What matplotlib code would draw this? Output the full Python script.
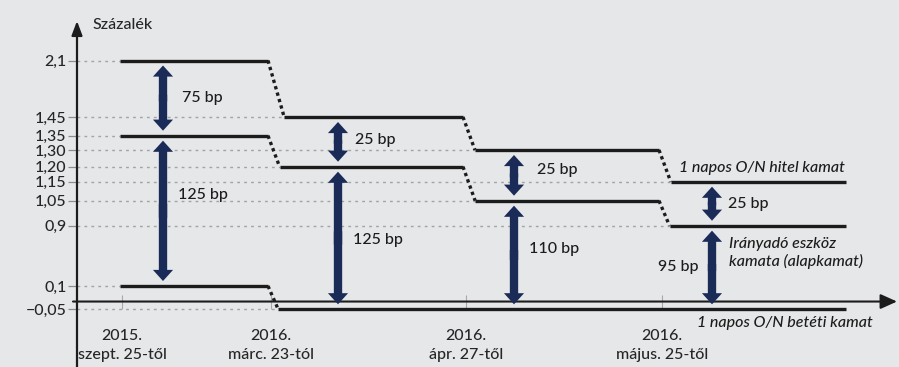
import numpy as np
import matplotlib.pyplot as plt
from matplotlib.patches import FancyArrowPatch, ArrowStyle

plt.rcParams['font.family'] = ['Lato', 'DejaVu Sans']
plt.rcParams['font.size'] = 11.5
plt.rcParams['font.weight'] = 'medium'

# Adatok (százalék)
ytick_values = [-0.05, 0.1, 0.9, 1.05, 1.15, 1.20, 1.30, 1.35, 1.45, 2.1]
ytick_labels = ['−0,05', '0,1', '0,9', '1,05', '1,15', '1,20', '1,30', '1,35', '1,45', '2,1']
periods = ['2015.\nszept. 25-től', '2016.\nmárc. 23-tól',
           '2016.\nápr. 27-től', '2016.\nmájus. 25-től']
hitel_kamat = [2.1, 1.45, 1.30, 1.15]
alapkamat = [1.35, 1.20, 1.05, 0.90]
betet_kamat = [0.10, -0.05, -0.05, -0.05]
series_names = ['1 napos O/N hitel kamat',
                'Irányadó eszköz\nkamata (alapkamat)',
                '1 napos O/N betéti kamat']

# Elrendezés (képpont)
W, H = 899, 367
ytick_pos = [57.7, 81, 141.3, 166.3, 185.3, 200.3, 217, 231.3, 250, 306.5]
period_x = [122, 271, 466, 662]
end_x = 846
axis_x = 77
arrow_x = [163, 338, 514, 712]
upper_dx = [19, 17, 23, 16]
upper_dy = [0, 2, 5, 0]
lower_dx = [15, 15, 15, -13]
lower_dy = [16, -2, 6, 0]

BG = '#e6e7e9'
INK = '#1c1c1c'
NAVY = '#1b2b57'
GRID = '#a3a3a3'

# A függőleges tengely sematikus (nem lineáris), ezért egy függvény-skála
vals_ext = [-0.5] + ytick_values + [3.0]
pos_ext = [ytick_pos[0] - 0.45 * 155] + ytick_pos + [ytick_pos[-1] + 0.9 * 87]


def fwd(v):
    return np.interp(v, vals_ext, pos_ext)


def inv(h):
    return np.interp(h, pos_ext, vals_ext)


fig = plt.figure(figsize=(W / 100, H / 100), dpi=100, facecolor=BG)
ax = fig.add_axes([0, 0, 1, 1])
ax.set_facecolor(BG)
ax.set_yscale('function', functions=(fwd, inv))
ax.set_xlim(0, W)
ax.set_ylim(inv(0), inv(H))

for spine in ax.spines.values():
    spine.set_visible(False)
ax.spines['left'].set_position(('data', axis_x))
ax.spines['bottom'].set_position(('data', 0))

ax.set_yticks(ytick_values, ytick_labels)
ax.tick_params(axis='y', direction='out', length=6.5, width=0.9, color='#8c8c8c',
               pad=1, labelcolor='#262626')
ax.set_xticks(period_x, periods, linespacing=1.45)
ax.tick_params(axis='x', direction='inout', length=9.5, width=0.8, color='#a8a8a8',
               pad=15, labelcolor='#262626')

# Tengelyek nyíllal
ax.annotate('', xy=(axis_x, inv(H - 21)), xytext=(axis_x, inv(0)),
            arrowprops=dict(arrowstyle='-|>,head_length=0.85,head_width=0.32',
                            lw=1.6, color=INK, shrinkA=0, shrinkB=0,
                            mutation_scale=10),
            annotation_clip=False)
ax.annotate('', xy=(W - 2, 0), xytext=(73, 0),
            arrowprops=dict(arrowstyle='-|>,head_length=1.0,head_width=0.45',
                            lw=1.5, color=INK, shrinkA=0, shrinkB=0,
                            mutation_scale=10),
            annotation_clip=False)
ax.text(axis_x + 15, inv(H - 25), 'Százalék', ha='left', va='center',
        color='#262626')


def draw_series(vals):
    x0 = period_x[0] - 2
    for i in range(1, len(vals) + 1):
        if i < len(vals) and vals[i] == vals[i - 1]:
            continue
        x1 = period_x[i] - 3 if i < len(vals) else end_x
        ax.hlines(vals[i - 1], axis_x, x0, colors=GRID, lw=1,
                  linestyles=(0, (2, 3)), zorder=1)
        ax.plot([x0, x1], [vals[i - 1]] * 2, color=INK, lw=2.4,
                solid_capstyle='butt', zorder=3)
        if i < len(vals):
            drop = fwd(vals[i - 1]) - fwd(vals[i])
            x2 = x1 + 6 + 0.18 * drop
            ax.plot([x1, x2], [vals[i - 1], vals[i]], color=INK, lw=2.4,
                    linestyle=(0, (1, 1)), dash_capstyle='butt', zorder=3)
            x0 = x2
    return x0


def double_arrow(x, v_top, v_bot, gap=5):
    h_top = fwd(v_top) - gap
    h_bot = fwd(v_bot) + gap
    style = ArrowStyle.Simple(head_length=0.8, head_width=1.45, tail_width=0.6)
    for start, end in ((h_bot + 0.45 * (h_top - h_bot), h_top),
                       (h_bot + 0.55 * (h_top - h_bot), h_bot)):
        ax.add_patch(FancyArrowPatch((x, inv(start)), (x, inv(end)),
                                     arrowstyle=style, mutation_scale=10,
                                     color=NAVY, lw=0, shrinkA=0, shrinkB=0,
                                     zorder=4))
    return (h_top + h_bot) / 2


last_x = [draw_series(s) for s in (hitel_kamat, alapkamat, betet_kamat)]

for i, x in enumerate(arrow_x):
    bp = round((hitel_kamat[i] - alapkamat[i]) * 100)
    mid = double_arrow(x, hitel_kamat[i], alapkamat[i])
    ax.text(x + upper_dx[i], inv(mid + upper_dy[i]), f'{bp} bp',
            ha='left', va='center', color=INK)
    bp = round((alapkamat[i] - betet_kamat[i]) * 100)
    mid = double_arrow(x, alapkamat[i], betet_kamat[i])
    ax.text(x + lower_dx[i], inv(mid + lower_dy[i]), f'{bp} bp',
            ha='left' if lower_dx[i] > 0 else 'right', va='center', color=INK)

# Sorozatnevek
ax.text(last_x[0] + 8, inv(fwd(hitel_kamat[-1]) + 14), series_names[0],
        ha='left', va='center', style='italic', color=INK)
ax.text(arrow_x[-1] + 17, inv(fwd(alapkamat[-1]) - 27), series_names[1],
        ha='left', va='center', style='italic', color=INK, linespacing=1.25)
ax.text(period_x[-1] + 35, inv(fwd(betet_kamat[-1]) - 14), series_names[2],
        ha='left', va='center', style='italic', color=INK)

fig.savefig('out.png', dpi=100, facecolor=BG)
